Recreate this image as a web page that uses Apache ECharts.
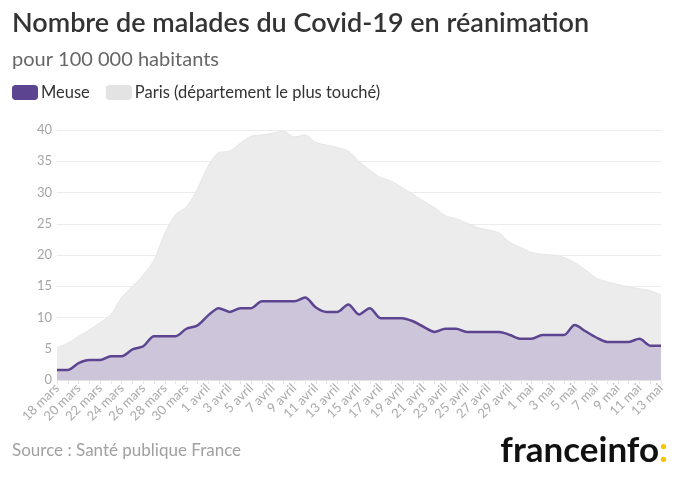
<!DOCTYPE html>
<html>
<head>
<meta charset="utf-8">
<script src="https://cdn.jsdelivr.net/npm/echarts@6/dist/echarts.min.js"></script>
<style>
  html, body { margin: 0; padding: 0; background: #fff; }
  #chart { width: 680px; height: 480px; }
</style>
</head>
<body>
<div id="chart"></div>
<script>
const categories = [
  "18 mars","19 mars","20 mars","21 mars","22 mars","23 mars","24 mars","25 mars","26 mars","27 mars","28 mars","29 mars","30 mars","31 mars",
  "1 avril","2 avril","3 avril","4 avril","5 avril","6 avril","7 avril","8 avril","9 avril","10 avril","11 avril","12 avril","13 avril","14 avril","15 avril",
  "16 avril","17 avril","18 avril","19 avril","20 avril","21 avril","22 avril","23 avril","24 avril","25 avril","26 avril","27 avril","28 avril","29 avril","30 avril",
  "1 mai","2 mai","3 mai","4 mai","5 mai","6 mai","7 mai","8 mai","9 mai","10 mai","11 mai","12 mai","13 mai"
];

const meuse = [
  1.6, 1.6, 2.7, 3.2, 3.2, 3.8, 3.8, 4.9, 5.4, 7.0,
  7.0, 7.0, 8.2, 8.7, 10.3, 11.5, 10.9, 11.5, 11.5, 12.6,
  12.6, 12.6, 12.6, 13.2, 11.6, 10.9, 10.9, 12.1, 10.5, 11.5,
  9.9, 9.9, 9.9, 9.4, 8.5, 7.7, 8.2, 8.2, 7.7, 7.7,
  7.7, 7.7, 7.2, 6.6, 6.6, 7.2, 7.2, 7.2, 8.8, 7.8,
  6.8, 6.1, 6.1, 6.1, 6.6, 5.5, 5.5
];

const paris = [
  5.2, 5.9, 7.0, 8.0, 9.2, 10.5, 13.2, 15.0, 16.8, 19.2,
  23.5, 26.5, 27.7, 30.5, 34.2, 36.4, 36.6, 37.9, 39.0, 39.2,
  39.5, 39.8, 38.9, 39.2, 38.0, 37.6, 37.2, 36.6, 35.0, 33.6,
  32.4, 31.8, 30.8, 29.7, 28.6, 27.6, 26.3, 25.8, 25.1, 24.4,
  24.0, 23.5, 22.0, 21.2, 20.4, 20.1, 20.0, 19.6, 18.8, 17.6,
  16.3, 15.7, 15.3, 14.9, 14.6, 14.3, 13.6
];

const yTicks = [0, 5, 10, 15, 20, 25, 30, 35, 40];

const FONT = 'Lato, "Noto Sans", sans-serif';
const chart = echarts.init(document.getElementById('chart'), null, { renderer: 'canvas' });

chart.setOption({
  backgroundColor: '#ffffff',
  animation: false,
  textStyle: { fontFamily: FONT },
  title: [
    {
      text: 'Nombre de malades du Covid-19 en réanimation',
      left: 12, top: 10, padding: 0,
      textStyle: { fontSize: 27, fontWeight: 600, color: '#333333', fontFamily: FONT }
    },
    {
      text: 'pour 100 000 habitants',
      left: 12, top: 50, padding: 0,
      textStyle: { fontSize: 20, fontWeight: 'normal', color: '#666666', fontFamily: FONT }
    }
  ],
  legend: {
    left: 12, top: 84, padding: 0,
    itemWidth: 26, itemHeight: 15, itemGap: 16,
    icon: 'roundRect',
    data: ['Meuse', 'Paris (département le plus touché)'],
    textStyle: { fontSize: 16.5, color: '#333333', fontFamily: FONT, padding: [0, 0, 0, -2] }
  },
  grid: { left: 57, right: 19, top: 130, bottom: 100, containLabel: false },
  xAxis: {
    type: 'category',
    data: categories,
    boundaryGap: false,
    axisLine: { show: true, lineStyle: { color: '#e6e6e6' } },
    axisTick: { show: true, interval: 0, length: 4, lineStyle: { color: '#e6e6e6' } },
    axisLabel: { interval: 1, rotate: 45, fontSize: 13, color: '#aaaaaa', margin: 6, fontFamily: FONT }
  },
  yAxis: {
    type: 'value',
    min: yTicks[0], max: yTicks[yTicks.length - 1], interval: 5,
    axisLine: { show: false },
    axisTick: { show: false },
    axisLabel: { fontSize: 13, color: '#a5a5a5', margin: 5, fontFamily: FONT },
    splitLine: { show: true, lineStyle: { color: '#ececec', width: 1 } }
  },
  series: [
    {
      name: 'Paris (département le plus touché)',
      type: 'line',
      data: paris,
      smooth: 0.3,
      symbol: 'none',
      itemStyle: { color: '#e3e3e3' },
      lineStyle: { color: '#e6e6e6', width: 1 },
      areaStyle: { color: '#ececec', opacity: 1 },
      z: 1
    },
    {
      name: 'Meuse',
      type: 'line',
      data: meuse,
      smooth: 0.3,
      symbol: 'none',
      itemStyle: { color: '#5c4491' },
      lineStyle: { color: '#5c4491', width: 2.5 },
      areaStyle: { color: '#cdc6da', opacity: 1 },
      z: 2
    }
  ],
  graphic: [
    {
      type: 'text',
      left: 12, top: 442,
      style: { text: 'Source : Santé publique France', fontSize: 17, fill: '#a0a0a0', fontFamily: FONT }
    },
    {
      type: 'text',
      right: 12, top: 433,
      style: {
        text: '{a|franceinfo}{b|:}',
        fontFamily: FONT,
        rich: {
          a: { fontSize: 35, fontWeight: 'bold', fill: '#111111', fontFamily: FONT },
          b: { fontSize: 35, fontWeight: 'bold', fill: '#f6c400', fontFamily: FONT }
        }
      }
    }
  ]
});
</script>
</body>
</html>
